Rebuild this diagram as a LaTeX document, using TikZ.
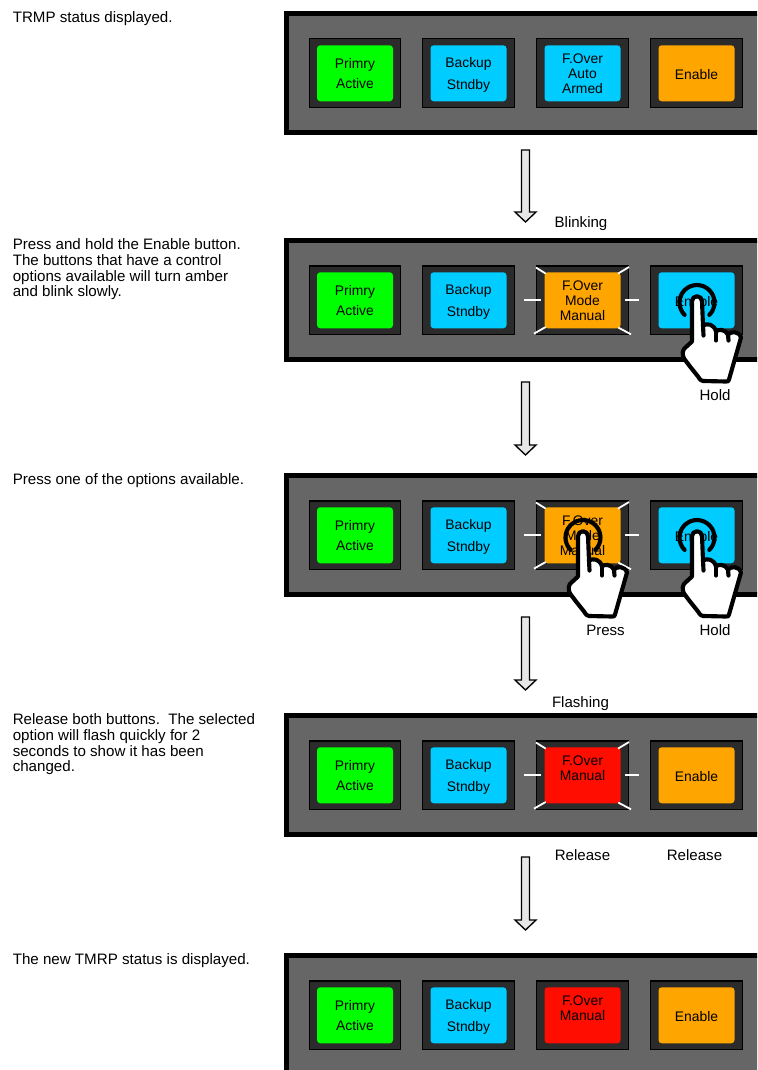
\documentclass[tikz,border=0pt]{standalone}
\usepackage{fontspec}
\setmainfont{Liberation Sans}
\definecolor{pgray}{HTML}{666666}
\definecolor{sockc}{HTML}{2B2B2B}
\definecolor{bgreen}{HTML}{00FF00}
\definecolor{bblue}{HTML}{00CCFF}
\definecolor{bamber}{HTML}{FFA500}
\definecolor{bred}{HTML}{FF0D00}
\definecolor{arrowc}{HTML}{E6E6E6}
\tikzset{
  panelbox/.style={draw=black,fill=pgray,line width=4.1pt,outer sep=0pt,inner sep=0pt,
    minimum width=375pt,minimum height=88.9pt,anchor=north west},
  socketbox/.style={draw=black,fill=sockc,line width=.8pt,outer sep=0pt,inner sep=0pt,
    minimum width=68.8pt,minimum height=51.5pt},
  btnface/.style={fill=#1,rounded corners=2.4pt,outer sep=0pt,inner sep=0pt,
    minimum width=57pt,minimum height=42pt},
  btext/.style={align=center,text=black,inner sep=0pt},
  prim/.style={font=\fontsize{10.4}{15}\selectfont},
  back/.style={font=\fontsize{10.4}{16.5}\selectfont},
  narrow/.style={font=\fontsize{10.4}{11.25}\selectfont},
  caption/.style={font=\fontsize{11.35}{11.8}\selectfont,anchor=north west,align=left,inner sep=0pt},
  tag/.style={font=\fontsize{11.3}{12}\selectfont,inner sep=0pt},
  ray/.style={draw=white,line width=1.35pt},
  handline/.style={draw=black,line width=3.1pt,line join=round,line cap=round},
  blockarrow/.style={draw=black,fill=arrowc,line width=1pt,line join=miter}
}
% name, socket, colour, style, y offset (px), text
\newcommand{\btnlabel}[6]{%
  \node[btnface=#3] (#1) at (#2.center) {};
  \node[btext,#4] (#1l) at ([yshift=#5*.75pt]#2.center) {#6};
}
\newcommand{\panelrow}[2]{% name, y of panel top
  \node[panelbox] (#1) at (286.75,-#2-2.75) {};
  \node[socketbox] (#1sa) at (355,-#2-62.3) {};
  \node[socketbox] (#1sb) at (468.5,-#2-62.3) {};
  \node[socketbox] (#1sc) at (582.5,-#2-62.3) {};
  \node[socketbox] (#1sd) at (696.5,-#2-62.3) {};
  \btnlabel{#1a}{#1sa}{bgreen}{prim}{-0.2}{Primry\\Active}
  \btnlabel{#1b}{#1sb}{bblue}{back}{-1.5}{Backup\\Stndby}
}
\newcommand{\rays}[1]{%
  \begin{scope}[shift={(#1.center)}]
    \draw[ray] (-46.5,32.7) -- (-36.8,26.7);
    \draw[ray] (35.5,26.7) -- (46.5,33.3);
    \draw[ray] (-48.5,-33.3) -- (-36.8,-26.7);
    \draw[ray] (35.8,-27.3) -- (48.5,-34);
    \draw[ray] (-58.5,0) -- (-41.8,0);
    \draw[ray] (42.5,0) -- (56.5,0);
  \end{scope}}
\newcommand{\hand}[1]{%
  \begin{scope}[shift={(#1)}]
    \draw[handline] (-12.4,-20.4) arc[start angle=225,end angle=-45,radius=17.5];
    \draw[handline,fill=white]
      (-5,-6.7) arc[start angle=180,end angle=0,radius=5]
      -- (6,-31)
      .. controls (10,-28.5) and (17,-29.5) .. (19,-37)
      .. controls (21,-34.5) and (28,-34.5) .. (31,-40)
      .. controls (34,-36.5) and (42,-36.5) .. (44,-43)
      -- (36,-71) -- (32,-85)
      .. controls (31.5,-87) and (31,-87) .. (29,-87)
      -- (6,-86.5) .. controls (4,-86.5) and (3,-85) .. (1,-82)
      -- (-7,-72) -- (-13,-64)
      .. controls (-15,-60) and (-15,-55) .. (-11,-52.5)
      -- (-5,-47) -- cycle;
    \draw[handline] (6,-31) -- (6.5,-41);
    \draw[handline] (19,-37) -- (19,-46);
    \draw[handline] (31,-40) -- (31.5,-46);
  \end{scope}}
\newcommand{\flowarrow}[3]{% name, top y, tip y
  \coordinate (#1s) at (525.5,-#2);
  \coordinate (#1e) at (525.5,-#3);
  \draw[blockarrow] ([xshift=-3pt]#1s) -- ([xshift=3pt]#1s)
    -- ([xshift=3pt,yshift=7.5pt]#1e) -- ([xshift=7.9pt,yshift=7.5pt]#1e)
    -- (#1e) -- ([xshift=-7.9pt,yshift=7.5pt]#1e) -- ([xshift=-3pt,yshift=7.5pt]#1e) -- cycle;}
\begin{document}
\begin{tikzpicture}[x=.75pt,y=.75pt]
\useasboundingbox (0,0) rectangle (757,-1070);
\clip (0,0) rectangle (757,-1070);
% panel 1
\panelrow{p}{11}
\btnlabel{pc}{psc}{bblue}{narrow}{-0.2}{F.Over\\Auto\\Armed}
\btnlabel{pd}{psd}{bamber}{narrow}{-1.2}{Enable}
% panel 2
\panelrow{q}{238}
\btnlabel{qc}{qsc}{bamber}{narrow}{-0.2}{F.Over\\Mode\\Manual}
\btnlabel{qd}{qsd}{bblue}{narrow}{-1.2}{Enable}
\rays{qsc}
\hand{697,-294.5}
% panel 3
\panelrow{r}{473}
\btnlabel{rc}{rsc}{bamber}{narrow}{-0.2}{F.Over\\Mode\\Manual}
\btnlabel{rd}{rsd}{bblue}{narrow}{-1.2}{Enable}
\rays{rsc}
\hand{583,-529.5}
\hand{697,-529.5}
% panel 4
\panelrow{s}{713}
\btnlabel{sc}{ssc}{bred}{narrow}{7.5}{F.Over\\Manual}
\btnlabel{sd}{ssd}{bamber}{narrow}{-1.2}{Enable}
\rays{ssc}
% panel 5
\panelrow{t}{953}
\btnlabel{tc}{tsc}{bred}{narrow}{7.5}{F.Over\\Manual}
\btnlabel{td}{tsd}{bamber}{narrow}{-1.2}{Enable}
% arrows
\flowarrow{aa}{150}{222}
\flowarrow{ab}{382}{455}
\flowarrow{ac}{617}{690}
\flowarrow{ad}{857}{930}
% captions
\node[caption] (c1) at (12.5,-11.5) {TRMP status displayed.};
\node[caption] (c2) at (12.5,-238.5) {Press and hold the Enable button.\\The buttons that have a control\\options available will turn amber\\and blink slowly.};
\node[caption] (c3) at (12.5,-473.5) {Press one of the options available.};
\node[caption] (c4) at (12.5,-713.5) {Release both buttons.\ \ The selected\\option will flash quickly for 2\\seconds to show it has been\\changed.};
\node[caption] (c5) at (12.5,-953.5) {The new TMRP status is displayed.};
% tags
\node[tag] (t1) at (581,-224) {Blinking};
\node[tag] (t2) at (715,-395.5) {Hold};
\node[tag] (t3) at (605.5,-630) {Press};
\node[tag] (t4) at (715,-630.5) {Hold};
\node[tag] (t5) at (580.5,-704) {Flashing};
\node[tag] (t6) at (582.5,-855.5) {Release};
\node[tag] (t7) at (694.5,-855.5) {Release};
\end{tikzpicture}
\end{document}
